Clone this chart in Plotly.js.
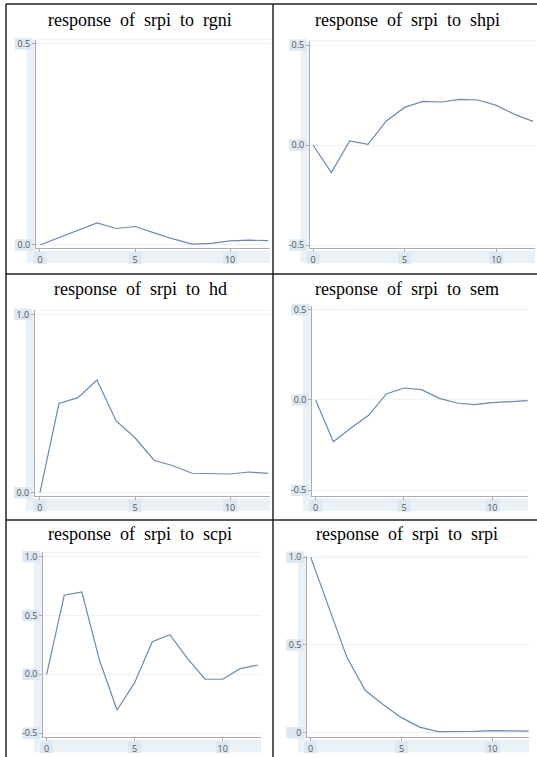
<!DOCTYPE html>
<html>
<head>
<meta charset="utf-8">
<script src="https://cdn.plot.ly/plotly-3.0.1.min.js"></script>
<style>
  html, body { margin: 0; padding: 0; background: #ffffff; }
  #chart { width: 537px; height: 757px; }
</style>
</head>
<body>
<div id="chart"></div>
<script>
// ---------------- data ----------------
const steps = [0, 1, 2, 3, 4, 5, 6, 7, 8, 9, 10, 11, 12];
const shockNames = ["rgni", "shpi", "hd", "sem", "scpi", "srpi"];
const respRgni = [0.000, 0.018, 0.036, 0.055, 0.041, 0.046, 0.030, 0.015, 0.002, 0.004, 0.010, 0.012, 0.011];
const respShpi = [0.000, -0.138, 0.020, 0.003, 0.120, 0.188, 0.218, 0.215, 0.228, 0.225, 0.198, 0.153, 0.118];
const respHd   = [0.000, 0.500, 0.533, 0.632, 0.404, 0.308, 0.182, 0.151, 0.109, 0.107, 0.105, 0.116, 0.108];
const respSem  = [0.000, -0.231, -0.155, -0.085, 0.033, 0.066, 0.057, 0.009, -0.017, -0.026, -0.015, -0.009, -0.004];
const respScpi = [0.000, 0.671, 0.699, 0.121, -0.303, -0.071, 0.277, 0.336, 0.136, -0.042, -0.042, 0.048, 0.079];
const respSrpi = [1.000, 0.715, 0.428, 0.242, 0.160, 0.086, 0.032, 0.006, 0.005, 0.008, 0.012, 0.012, 0.009];
const xTickVals = [0, 5, 10];
const xTickText = ["0", "5", "10"];
const yTickVals = [[0, 0.5], [-0.5, 0, 0.5], [0, 1], [-0.5, 0, 0.5], [-0.5, 0, 0.5, 1], [0, 0.5, 1]];
const yTickText = [["0.0", "0.5"], ["-0.5", "0.0", "0.5"], ["0.0", "1.0"], ["-0.5", "0.0", "0.5"], ["-0.5", "0.0", "0.5", "1.0"], ["0", "0.5", "1.0"]];
const series = [respRgni, respShpi, respHd, respSem, respScpi, respSrpi];

// ---------------- layout geometry (pixels) ----------------
const W = 537, H = 757;
const geo = [
  {box: [36, 270, 39.5, 248],    xr: [-0.21, 12.1],  yr: [-0.0075, 0.511], tx: 140, ty: 20},
  {box: [310, 535, 40.7, 248],   xr: [-0.164, 12.11], yr: [-0.515, 0.5215], tx: 407, ty: 20},
  {box: [35, 270, 310.3, 495.7], xr: [-0.26, 12.1],  yr: [-0.0168, 1.023],  tx: 140, ty: 289},
  {box: [312.3, 528, 306, 495.7],xr: [-0.19, 12.02], yr: [-0.53, 0.52],    tx: 407, ty: 289},
  {box: [43.3, 261, 552.3, 737.3],xr: [-0.19, 12.18], yr: [-0.535, 1.036],  tx: 140, ty: 534},
  {box: [307.3, 529, 556, 737.3],xr: [-0.187, 12.02],yr: [-0.026, 1.007],  tx: 407, ty: 534}
];
const px = x => x / W;
const py = y => 1 - y / H;

const lineColor = "#6a8aaf";
const bandColor = "#eaf1f7";
const boxColor = "#dde8f2";
const axisColor = "#a8adb3";
const gridColor = "#eef2f6";
const tickFont = {family: "Open Sans, Noto Sans, sans-serif", size: 9, color: "#555555"};

const traces = [];
const layout = {
  width: W, height: H,
  margin: {l: 0, r: 0, t: 0, b: 0},
  paper_bgcolor: "#ffffff",
  plot_bgcolor: "rgba(0,0,0,0)",
  showlegend: false,
  shapes: [],
  annotations: []
};

geo.forEach((g, i) => {
  const n = i + 1;
  const xa = n === 1 ? "xaxis" : "xaxis" + n;
  const ya = n === 1 ? "yaxis" : "yaxis" + n;
  const xr = n === 1 ? "x" : "x" + n;
  const yr = n === 1 ? "y" : "y" + n;
  const [L, R, T, B] = g.box;
  traces.push({
    x: steps, y: series[i], xaxis: xr, yaxis: yr,
    type: "scatter", mode: "lines",
    line: {color: lineColor, width: 1.2},
    name: "response of srpi to " + shockNames[i],
    hoverinfo: "x+y"
  });
  layout[xa] = {
    domain: [px(L), px(R)], anchor: yr, range: g.xr,
    tickvals: xTickVals, ticktext: xTickText,
    ticks: "outside", ticklen: 3, tickcolor: axisColor,
    showline: true, linecolor: axisColor, linewidth: 1,
    showgrid: false, zeroline: false, tickfont: tickFont, fixedrange: true
  };
  layout[ya] = {
    domain: [py(B), py(T)], anchor: xr, range: g.yr,
    tickvals: yTickVals[i], ticktext: yTickText[i],
    ticks: "outside", ticklen: 3, tickcolor: axisColor,
    showline: true, linecolor: axisColor, linewidth: 1,
    showgrid: true, gridcolor: gridColor, gridwidth: 1,
    zeroline: false, tickfont: tickFont, fixedrange: true
  };
  // light tick-label bands
  layout.shapes.push({type: "rect", xref: "paper", yref: "paper", layer: "below",
    x0: px(L - 9.3), x1: px(L - 1), y0: py(B + 15), y1: py(T), fillcolor: bandColor, line: {width: 0}});
  layout.shapes.push({type: "rect", xref: "paper", yref: "paper", layer: "below",
    x0: px(L - 4), x1: px(R), y0: py(B + 15), y1: py(B + 2.5), fillcolor: bandColor, line: {width: 0}});
  // faint top frame line
  layout.shapes.push({type: "line", xref: "paper", yref: "paper", layer: "below",
    x0: px(L), x1: px(R), y0: py(T), y1: py(T), line: {color: gridColor, width: 1}});
  // boxes behind y tick labels
  yTickVals[i].forEach(v => {
    const yp = B - (v - g.yr[0]) / (g.yr[1] - g.yr[0]) * (B - T);
    layout.shapes.push({type: "rect", xref: "paper", yref: "paper", layer: "below",
      x0: px(L - 21), x1: px(L - 3.5), y0: py(yp + 5.7), y1: py(yp - 5.7), fillcolor: boxColor, line: {width: 0}});
  });
  xTickVals.forEach((v, k) => {
    const xp = L + (v - g.xr[0]) / (g.xr[1] - g.xr[0]) * (R - L);
    const hw = xTickText[k].length > 1 ? 7 : 6.5;
    layout.shapes.push({type: "rect", xref: "paper", yref: "paper", layer: "below",
      x0: px(xp - hw), x1: px(xp + hw), y0: py(B + 16), y1: py(B + 4), fillcolor: boxColor, line: {width: 0}});
  });
  layout.annotations.push({
    xref: "paper", yref: "paper", x: px(g.tx), y: py(g.ty),
    xanchor: "center", yanchor: "middle", showarrow: false,
    text: "response \u00a0of \u00a0srpi \u00a0to \u00a0" + shockNames[i],
    font: {family: "Liberation Serif, Times New Roman, serif", size: 18, color: "#000000"}
  });
});

// table borders
const border = {color: "#222222", width: 1.5};
[[6, 4, 537, 4], [6, 274, 537, 274], [6, 520, 537, 520], [6, 4, 6, 757], [273, 4, 273, 757]].forEach(s => {
  layout.shapes.push({type: "line", xref: "paper", yref: "paper", layer: "above",
    x0: px(s[0]), y0: py(s[1]), x1: px(s[2]), y1: py(s[3]), line: border});
});

Plotly.newPlot("chart", traces, layout, {staticPlot: true, displayModeBar: false});
</script>
</body>
</html>
